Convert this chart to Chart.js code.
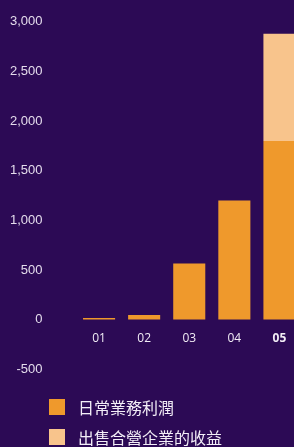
<!DOCTYPE html>
<html><head><meta charset="utf-8">
<script src="https://cdn.jsdelivr.net/npm/chart.js@4/dist/chart.umd.min.js"></script>
<style>
html,body{margin:0;padding:0;background:#2c0a55;overflow:hidden;width:294px;height:447px;}
#wrap{position:absolute;left:0;top:-20px;width:302px;height:431px;}
.legend{position:absolute;left:49px;font-family:"Noto Sans CJK TC","Noto Sans",sans-serif;font-size:16px;color:#f3eef7;display:flex;align-items:center;}
.legend span.box{display:inline-block;width:16px;height:16px;margin-right:13px;}
</style></head>
<body>
<div id="wrap"><canvas id="c" width="302" height="431"></canvas></div>
<div class="legend" style="top:395px;"><span class="box" style="background:#ef992c"></span><span>日常業務利潤</span></div>
<div class="legend" style="top:425px;"><span class="box" style="background:#f8c48c"></span><span>出售合營企業的收益</span></div>
<script>
const categories = ["01","02","03","04","05"];
const dailyProfit = [15, 45, 565, 1200, 1800];
const saleGain = [0, 0, 0, 0, 1080];
const yTicks = [-500, 0, 500, 1000, 1500, 2000, 2500, 3000];
const seriesNames = ["日常業務利潤","出售合營企業的收益"];

new Chart(document.getElementById('c'), {
  type: 'bar',
  data: {
    labels: categories,
    datasets: [
      {label: seriesNames[0], data: dailyProfit, backgroundColor: '#ef992c', categoryPercentage: 1, barPercentage: 0.711},
      {label: seriesNames[1], data: saleGain, backgroundColor: '#f8c48c', categoryPercentage: 1, barPercentage: 0.711}
    ]
  },
  options: {
    responsive: false,
    animation: false,
    layout: {padding: {top: 10, bottom: 12, left: 0, right: 0}},
    plugins: {legend: {display: false}, tooltip: {enabled: false}},
    scales: {
      x: {
        stacked: true,
        position: {y: 0},
        grid: {display: false, drawTicks: false},
        border: {display: false},
        afterFit: s => { s.height = 0; },
        ticks: {
          padding: 12,
          color: '#f1ecf5',
          font: c => ({family: '"Open Sans","Noto Sans",sans-serif', size: 12, weight: c.index === 4 ? 'bold' : 'normal'})
        }
      },
      y: {
        stacked: true,
        min: yTicks[0],
        max: yTicks[yTicks.length - 1],
        afterFit: s => { s.width = 76.5; },
        afterBuildTicks: s => { s.ticks = yTicks.map(v => ({value: v})); },
        grid: {display: false, drawTicks: false},
        border: {display: false},
        ticks: {
          padding: 34,
          color: '#e4dcec',
          font: {family: '"Liberation Sans",Arial,sans-serif', size: 13},
          callback: v => v.toLocaleString('en-US')
        }
      }
    }
  }
});
</script>
</body></html>
